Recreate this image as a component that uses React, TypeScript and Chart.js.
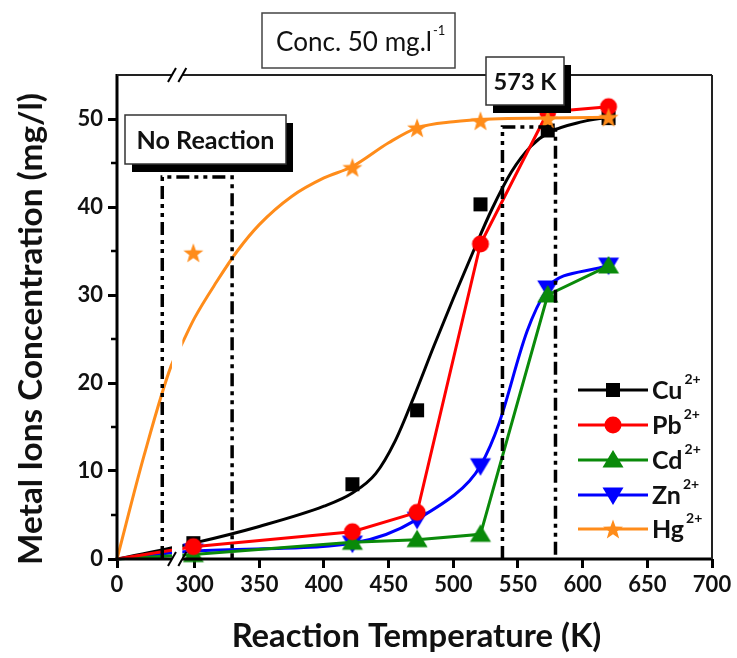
import React, { useEffect, useRef } from 'react';
import { Chart, registerables } from 'chart.js';

Chart.register(...registerables);

// ---------------- data ----------------
const temperatures = [0, 299, 422, 472, 521, 573, 620];
const cuValues = [0, 1.8, 8.5, 16.9, 40.3, 48.7, 50.1];
const pbValues = [0, 1.4, 3.1, 5.3, 35.8, 50.8, 51.4];
const cdValues = [0, 0.5, 1.9, 2.2, 2.8, 30.0, 33.3];
const znValues = [0, 0.9, 1.8, 4.5, 10.6, 30.8, 33.4];
const hgValues = [0, 34.8, 44.5, 49.0, 49.8, 50.0, 50.2];

// fitted (smoothed) curves drawn for Cu and Hg
const cuFitT = [0, 299, 350, 400, 422, 440, 455, 470, 485, 500, 515, 530, 545, 560, 573, 600, 620];
const cuFitV = [0, 1.8, 3.7, 6.0, 7.5, 9.7, 13.4, 18.6, 24.2, 29.6, 34.8, 39.8, 44.0, 46.9, 48.4, 49.7, 50.2];
const hgFitT = [0, 21, 42, 290, 300, 317, 333, 350, 375, 400, 422, 450, 472, 500, 530, 573, 620];
const hgFitV = [0, 11.8, 22.0, 24.4, 27.4, 31.5, 35.0, 38.0, 41.2, 43.3, 44.6, 47.3, 49.0, 49.7, 50.0, 50.1, 50.2];

const seriesNames = ['Cu', 'Pb', 'Cd', 'Zn', 'Hg'];
const seriesCharge = '2+';
const xTickValues = [0, 300, 350, 400, 450, 500, 550, 600, 650, 700];
const yTickValues = [0, 10, 20, 30, 40, 50];
const yMinorTicks = [5, 15, 25, 35, 45];

// annotation regions (data units)
const noReactionRegion = { x0: 35, x1: 329, top: 43.4 };
const reactionRegion = { x0: 538, x1: 579, top: 49.1 };

// ---------------- axis break mapping ----------------
const BREAK_SHIFT = 240;
const BREAK_LIMIT = 100;
const toU = (x: number) => (x <= BREAK_LIMIT ? x : x - BREAK_SHIFT);
const BREAK_U = [42.5, 50.5];

const FONT = 'Lato, "Open Sans", "DejaVu Sans", sans-serif';
const COLORS = {
  Cu: '#000000',
  Pb: '#ff0000',
  Cd: '#0a8a0a',
  Zn: '#0000ff',
  Hg: '#ff8c1a',
};

function markerCanvas(kind: string, color: string): HTMLCanvasElement {
  const S = 24;
  const c = document.createElement('canvas');
  c.width = S;
  c.height = S;
  const g = c.getContext('2d')!;
  const m = S / 2;
  g.fillStyle = color;
  g.beginPath();
  if (kind === 'square') {
    g.rect(m - 7, m - 7, 14, 14);
  } else if (kind === 'circle') {
    g.arc(m, m, 8.5, 0, Math.PI * 2);
  } else if (kind === 'up') {
    g.moveTo(m, m - 10);
    g.lineTo(m + 10.5, m + 7.5);
    g.lineTo(m - 10.5, m + 7.5);
  } else if (kind === 'down') {
    g.moveTo(m, m + 10);
    g.lineTo(m + 10.5, m - 7.5);
    g.lineTo(m - 10.5, m - 7.5);
  } else if (kind === 'star') {
    for (let i = 0; i < 10; i++) {
      const r = i % 2 === 0 ? 10.5 : 4.3;
      const a = -Math.PI / 2 + (i * Math.PI) / 5;
      g.lineTo(m + r * Math.cos(a), m + 1 + r * Math.sin(a));
    }
  }
  g.closePath();
  g.fill();
  return c;
}

function pts(xs: number[], ys: number[]) {
  return xs.map((x, i) => ({ x: toU(x), y: ys[i], t: x }));
}

function fitFontSize(ctx: CanvasRenderingContext2D, text: string, weight: string, width: number) {
  ctx.font = `${weight} 100px ${FONT}`;
  const w = ctx.measureText(text).width;
  return (100 * width) / w;
}

export default function App() {
  const ref = useRef<HTMLCanvasElement | null>(null);

  useEffect(() => {
    document.body.style.margin = '0';
    const canvas = ref.current;
    if (!canvas) return;

    const markers: Record<string, HTMLCanvasElement> = {
      Cu: markerCanvas('square', COLORS.Cu),
      Pb: markerCanvas('circle', COLORS.Pb),
      Cd: markerCanvas('up', COLORS.Cd),
      Zn: markerCanvas('down', COLORS.Zn),
      Hg: markerCanvas('star', COLORS.Hg),
    };

    const radius = (c: any) => (c.raw && c.raw.t === 0 ? 0 : 8);

    const datasets: any[] = [
      {
        label: 'Hg',
        data: pts(temperatures, hgValues),
        showLine: false,
        pointStyle: markers.Hg,
        pointRadius: radius,
        order: 0,
        clip: false,
      },
      {
        label: 'Hg fit',
        data: pts(hgFitT, hgFitV),
        borderColor: COLORS.Hg,
        borderWidth: 3,
        pointRadius: 0,
        cubicInterpolationMode: 'monotone',
        order: 1,
        clip: false,
      },
      {
        label: 'Zn',
        data: pts(temperatures, znValues),
        borderColor: COLORS.Zn,
        borderWidth: 3,
        tension: 0.35,
        pointStyle: markers.Zn,
        pointRadius: radius,
        order: 4,
        clip: false,
      },
      {
        label: 'Cd',
        data: pts(temperatures, cdValues),
        borderColor: COLORS.Cd,
        borderWidth: 3,
        tension: 0,
        pointStyle: markers.Cd,
        pointRadius: radius,
        order: 3,
        clip: false,
      },
      {
        label: 'Pb',
        data: pts(temperatures, pbValues),
        borderColor: COLORS.Pb,
        borderWidth: 3,
        tension: 0,
        pointStyle: markers.Pb,
        pointRadius: radius,
        order: 2,
        clip: false,
      },
      {
        label: 'Cu',
        data: pts(temperatures, cuValues),
        showLine: false,
        pointStyle: markers.Cu,
        pointRadius: radius,
        order: 5,
        clip: false,
      },
      {
        label: 'Cu fit',
        data: pts(cuFitT, cuFitV),
        borderColor: COLORS.Cu,
        borderWidth: 3,
        pointRadius: 0,
        cubicInterpolationMode: 'monotone',
        order: 6,
        clip: false,
      },
    ];

    const decor = {
      id: 'decor',
      afterDatasetsDraw(chart: any) {
        const { ctx, chartArea: a, scales } = chart;
        const xs = scales.x;
        const ys = scales.y;
        const L = a.left, R = a.right, T = a.top, B = a.bottom;
        const g0 = xs.getPixelForValue(BREAK_U[0]);
        const g1 = xs.getPixelForValue(BREAK_U[1]);
        ctx.save();

        // axis break gap
        ctx.fillStyle = '#ffffff';
        ctx.fillRect(g0, T - 6, g1 - g0, B - T + 12);

        // frame
        ctx.strokeStyle = '#000';
        ctx.lineCap = 'butt';
        ctx.lineWidth = 3;
        ctx.beginPath();
        ctx.moveTo(L, T - 1);
        ctx.lineTo(L, B + 1.5);
        ctx.stroke();
        ctx.beginPath();
        ctx.moveTo(L - 1.5, B);
        ctx.lineTo(g0, B);
        ctx.moveTo(g1, B);
        ctx.lineTo(R + 1, B);
        ctx.stroke();
        ctx.lineWidth = 2;
        ctx.strokeStyle = '#222';
        ctx.beginPath();
        ctx.moveTo(L, T);
        ctx.lineTo(g0, T);
        ctx.moveTo(g1, T);
        ctx.lineTo(R, T);
        ctx.moveTo(R, T);
        ctx.lineTo(R, B);
        ctx.stroke();

        // break slashes
        ctx.strokeStyle = '#000';
        ctx.lineWidth = 2;
        for (const yy of [T, B]) {
          for (const xx of [g0, g1]) {
            ctx.beginPath();
            ctx.moveTo(xx - 4, yy + 7);
            ctx.lineTo(xx + 4, yy - 7);
            ctx.stroke();
          }
        }

        // minor y ticks
        ctx.lineWidth = 2.5;
        ctx.strokeStyle = '#000';
        for (const v of yMinorTicks) {
          const py = ys.getPixelForValue(v);
          ctx.beginPath();
          ctx.moveTo(L - 1, py);
          ctx.lineTo(L - 6, py);
          ctx.stroke();
        }

        // dash-dot regions
        ctx.setLineDash([13, 5, 4, 5, 4, 5]);
        ctx.lineWidth = 3.5;
        for (const r of [noReactionRegion, reactionRegion]) {
          const x0 = xs.getPixelForValue(toU(r.x0));
          const x1 = xs.getPixelForValue(toU(r.x1));
          const yt = ys.getPixelForValue(r.top);
          ctx.beginPath();
          ctx.moveTo(x0, B);
          ctx.lineTo(x0, yt);
          ctx.lineTo(x1, yt);
          ctx.lineTo(x1, B);
          ctx.stroke();
        }
        ctx.setLineDash([]);

        // text boxes with shadow
        const shadowBox = (x0: number, y0: number, x1: number, y1: number, text: string, tw: number) => {
          ctx.fillStyle = '#000';
          ctx.fillRect(x0 + 7, y0 + 8, x1 - x0, y1 - y0);
          ctx.fillStyle = '#fff';
          ctx.fillRect(x0, y0, x1 - x0, y1 - y0);
          ctx.strokeStyle = '#333';
          ctx.lineWidth = 1.5;
          ctx.strokeRect(x0, y0, x1 - x0, y1 - y0);
          const fs = fitFontSize(ctx, text, 'bold', tw);
          ctx.font = `bold ${fs}px ${FONT}`;
          ctx.fillStyle = '#111';
          ctx.textAlign = 'center';
          ctx.textBaseline = 'middle';
          ctx.fillText(text, (x0 + x1) / 2, (y0 + y1) / 2 + 1);
        };
        shadowBox(125, 115, 286, 164, 'No Reaction', 138);
        shadowBox(486, 57, 564, 105, '573 K', 63);

        // legend
        const rows = [390, 425, 460, 495, 529];
        seriesNames.forEach((name, i) => {
          const y = rows[i];
          const color = (COLORS as any)[name];
          ctx.strokeStyle = color;
          ctx.lineWidth = 3;
          ctx.beginPath();
          ctx.moveTo(578, y);
          ctx.lineTo(648, y);
          ctx.stroke();
          const m = markers[name];
          ctx.drawImage(m, 613 - m.width / 2, y - m.height / 2);
          ctx.fillStyle = '#111';
          ctx.textAlign = 'left';
          ctx.textBaseline = 'middle';
          ctx.font = `bold 25px ${FONT}`;
          ctx.fillText(name, 652, y + 1);
          const w = ctx.measureText(name).width;
          ctx.font = `bold 14px ${FONT}`;
          ctx.fillText(seriesCharge, 652 + w + 2, y - 11);
        });
        ctx.restore();
      },
      afterDraw(chart: any) {
        const { ctx, chartArea: a } = chart;
        ctx.save();
        // concentration box (no shadow)
        ctx.fillStyle = '#fff';
        ctx.fillRect(262, 13, 193, 55);
        ctx.strokeStyle = '#444';
        ctx.lineWidth = 1.5;
        ctx.strokeRect(262, 13, 193, 55);
        const main = 'Conc. 50 mg.l';
        const fs = fitFontSize(ctx, main, 'normal', 156);
        ctx.font = `normal ${fs}px ${FONT}`;
        ctx.fillStyle = '#111';
        ctx.textAlign = 'left';
        ctx.textBaseline = 'middle';
        ctx.fillText(main, 276, 43);
        const mw = ctx.measureText(main).width;
        ctx.font = `normal 13px ${FONT}`;
        ctx.fillText('-1', 276 + mw + 1, 31);

        // axis titles
        const yt = 'Metal Ions Concentration (mg/l)';
        const yfs = fitFontSize(ctx, yt, 'bold', 472);
        ctx.font = `bold ${yfs}px ${FONT}`;
        ctx.textAlign = 'center';
        ctx.textBaseline = 'middle';
        ctx.save();
        ctx.translate(31, 329);
        ctx.rotate(-Math.PI / 2);
        ctx.fillText(yt, 0, 0);
        ctx.restore();

        const xt = 'Reaction Temperature (K)';
        const xfs = fitFontSize(ctx, xt, 'bold', 370);
        ctx.font = `bold ${xfs}px ${FONT}`;
        ctx.fillText(xt, (a.left + a.right) / 2 + 2, 636);
        ctx.restore();
      },
    };

    const tickFont = { family: FONT, size: 22, weight: 'bold' as const };

    const chart = new Chart(canvas, {
      type: 'line',
      data: { datasets },
      options: {
        animation: false,
        responsive: false,
        maintainAspectRatio: false,
        events: [],
        layout: { padding: { left: 0, right: 25, top: 75, bottom: 0 } },
        plugins: { legend: { display: false }, tooltip: { enabled: false } },
        scales: {
          x: {
            type: 'linear',
            min: 0,
            max: 460,
            afterBuildTicks: (s: any) => {
              s.ticks = xTickValues.map((v) => ({ value: toU(v) }));
            },
            afterFit: (s: any) => {
              s.height = 99;
            },
            ticks: {
              font: tickFont,
              color: '#111',
              padding: 4,
              maxRotation: 0,
              autoSkip: false,
              callback: (_v: any, i: number) => String(xTickValues[i]),
            },
            grid: {
              drawOnChartArea: false,
              drawTicks: true,
              tickLength: 9,
              tickWidth: 3,
              tickColor: '#000',
            },
            border: { display: false },
          },
          y: {
            type: 'linear',
            min: 0,
            max: 55,
            afterBuildTicks: (s: any) => {
              s.ticks = yTickValues.map((v) => ({ value: v }));
            },
            afterFit: (s: any) => {
              s.width = 117;
            },
            ticks: {
              font: tickFont,
              color: '#111',
              padding: 5,
              callback: (v: any) => String(v),
            },
            grid: {
              drawOnChartArea: false,
              drawTicks: true,
              tickLength: 9,
              tickWidth: 3,
              tickColor: '#000',
            },
            border: { display: false },
          },
        },
      },
      plugins: [decor],
    });

    return () => chart.destroy();
  }, []);

  return (
    <div style={{ width: 737, height: 658, background: '#fff' }}>
      <canvas ref={ref} width={737} height={658} style={{ display: 'block', width: 737, height: 658 }} />
    </div>
  );
}
